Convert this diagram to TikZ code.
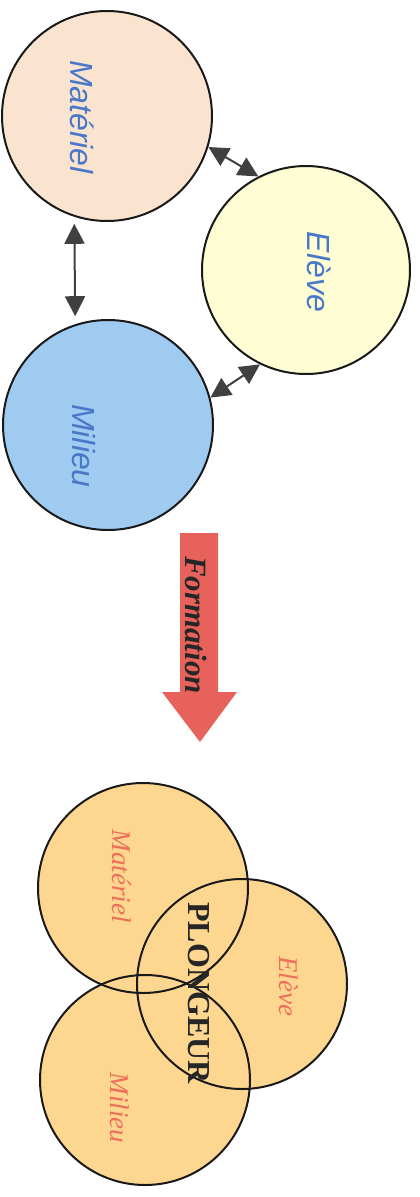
\documentclass[tikz,border=0pt]{standalone}
\usepackage{fontspec}
\setmainfont{Liberation Serif}
\newfontfamily\arialfont{Liberation Sans}
\usetikzlibrary{arrows.meta,backgrounds}
\definecolor{matfill}{HTML}{FAE4CF}
\definecolor{elefill}{HTML}{FEFDD3}
\definecolor{milfill}{HTML}{9FCBF1}
\definecolor{bluetext}{HTML}{4A78C8}
\definecolor{arrgray}{HTML}{404040}
\definecolor{formred}{HTML}{E8625C}
\definecolor{vennfill}{HTML}{FDD690}
\definecolor{venntext}{HTML}{EE6E5A}
\definecolor{darktext}{HTML}{262626}
\tikzset{
  bigcircle/.style={circle, draw=black!90, line width=2pt, inner sep=0pt, minimum size=#1},
  toplabel/.style={rotate=-90, text=bluetext, font=\arialfont\itshape\fontsize{32}{32}\selectfont, inner sep=0pt},
  vennlabel/.style={rotate=-90, text=venntext, font=\itshape\fontsize{27}{27}\selectfont, inner sep=0pt},
  link/.style={arrgray, line width=2pt, {Triangle[length=20pt,width=20pt]}-{Triangle[length=20pt,width=20pt]}},
}
\begin{document}
\begin{tikzpicture}[x=1pt,y=-1pt]
\useasboundingbox (0,0) rectangle (420,1197);
% top circles
\node[bigcircle=210pt, fill=matfill] (mat) at (107,116) {};
\node[bigcircle=208pt, fill=elefill] (ele) at (306,270) {};
\node[bigcircle=210pt, fill=milfill] (mil) at (108,425) {};
\node[toplabel] (matl) at (82,117) {Matériel};
\node[toplabel] (elel) at (319,272) {Elève};
\node[toplabel] (mill) at (84,446) {Milieu};
% links
\draw[link, shorten <=7pt, shorten >=8pt] (mat.252) -- (mil.108);
\draw[link] (mat.343) -- (ele.117);
\draw[link] (ele.244) -- (mil.15);
% formation arrow
\fill[formred] (180,533) -- (218,533) -- (218,692) -- (237,692) -- (200,742) -- (162,692) -- (180,692) -- cycle;
\node[rotate=-90, inner sep=0pt, text=darktext, font=\bfseries\itshape\fontsize{31}{31}\selectfont] (form) at (196,625) {Formation};
% venn
\node[bigcircle=210pt] (vmat) at (143,888) {};
\node[bigcircle=210pt] (vele) at (242,984) {};
\node[bigcircle=210pt] (vmil) at (145,1080) {};
\begin{scope}[on background layer]
  \fill[vennfill] (vmat.center) circle (105);
  \fill[vennfill] (vele.center) circle (105);
  \fill[vennfill] (vmil.center) circle (105);
\end{scope}
\node[vennlabel] (vmatl) at (122,876) {Matériel};
\node[vennlabel] (velel) at (289,986) {Elève};
\node[vennlabel] (vmill) at (120,1108) {Milieu};
\node[rotate=-90, inner sep=0pt, text=darktext, font=\bfseries\fontsize{32}{32}\selectfont] (plong) at (199,993) {PLONGEUR};
\end{tikzpicture}
\end{document}
